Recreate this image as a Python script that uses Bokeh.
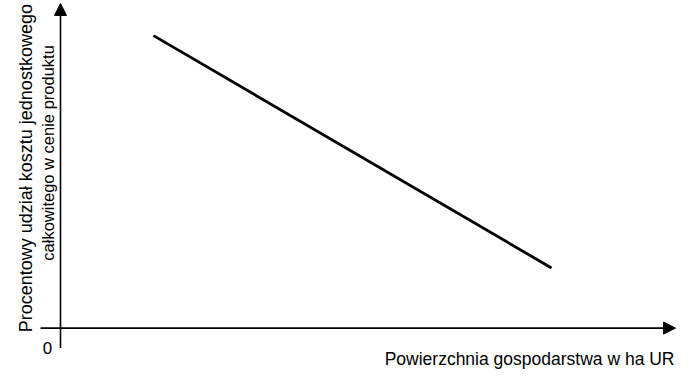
import math
from bokeh.plotting import figure
from bokeh.models import Range1d, Arrow, NormalHead, Label
from bokeh.embed import file_html
from bokeh.resources import INLINE

# ---- data (conceptual chart: cost share falls as farm area grows) ----
x_area = [1.86, 9.82]          # Powierzchnia gospodarstwa (arbitrary units)
y_share = [7.68, 1.58]         # Procentowy udział kosztu (arbitrary units)
x_title = "Powierzchnia gospodarstwa w ha UR"
y_title_1 = "Procentowy udział kosztu jednostkowego"
y_title_2 = "całkowitego w cenie produktu"
origin_label = "0"

# ---- layout ----
W, H = 676, 371
K = 0.952                      # vertical squeeze so the bottom title fits
OFF = -5.6


def ry(y):                     # layout position -> canvas pixel row
    return OFF + K * y


ORIGIN_X, ORIGIN_Y = 60, ry(350)   # canvas pixels of the (0, 0) point
SX, SY = 50.0, 40.0 * K            # pixels per data unit
FONT = "Liberation Sans"


def dx(px):
    return (px - ORIGIN_X) / SX


def dy(py):
    return (ORIGIN_Y - py) / SY


p = figure(width=W, height=H, output_backend="svg", toolbar_location=None,
           x_range=Range1d(dx(0), dx(W)), y_range=Range1d(dy(H), dy(0)),
           x_axis_type=None, y_axis_type=None, min_border=0,
           outline_line_color=None, background_fill_color="white",
           border_fill_color="white")
p.grid.visible = False

# axes drawn as arrows
p.add_layout(Arrow(end=NormalHead(size=12, fill_color="black", line_color="black", line_width=1),
                   x_start=0, y_start=dy(ry(371)), x_end=0, y_end=dy(ry(9)),
                   line_width=1.6, line_color="black"))
p.add_layout(Arrow(end=NormalHead(size=12, fill_color="black", line_color="black", line_width=1),
                   x_start=dx(40), y_start=0, x_end=dx(675), y_end=0,
                   line_width=1.6, line_color="black"))

# the data line
p.line(x_area, y_share, line_width=2.8, line_color="black")

# texts
p.add_layout(Label(x=dx(47), y=dy(ry(371)), text=origin_label, text_font=FONT,
                   text_font_size="17px", text_align="center",
                   text_baseline="alphabetic", text_color="black"))
p.add_layout(Label(x=dx(674), y=dy(ry(382)), text=x_title, text_font=FONT,
                   text_font_size="17.5px", text_align="right",
                   text_baseline="alphabetic", text_color="black"))
p.add_layout(Label(x=dx(25), y=dy(ry(182)), text=y_title_1, text_font=FONT,
                   text_font_size="18px", text_align="center", angle=math.pi / 2,
                   text_baseline="alphabetic", text_color="black"))
p.add_layout(Label(x=dx(47), y=dy(ry(166)), text=y_title_2, text_font=FONT,
                   text_font_size="16.5px", text_align="center", angle=math.pi / 2,
                   text_baseline="alphabetic", text_color="black"))

open("out.html", "w").write(file_html(p, INLINE))
